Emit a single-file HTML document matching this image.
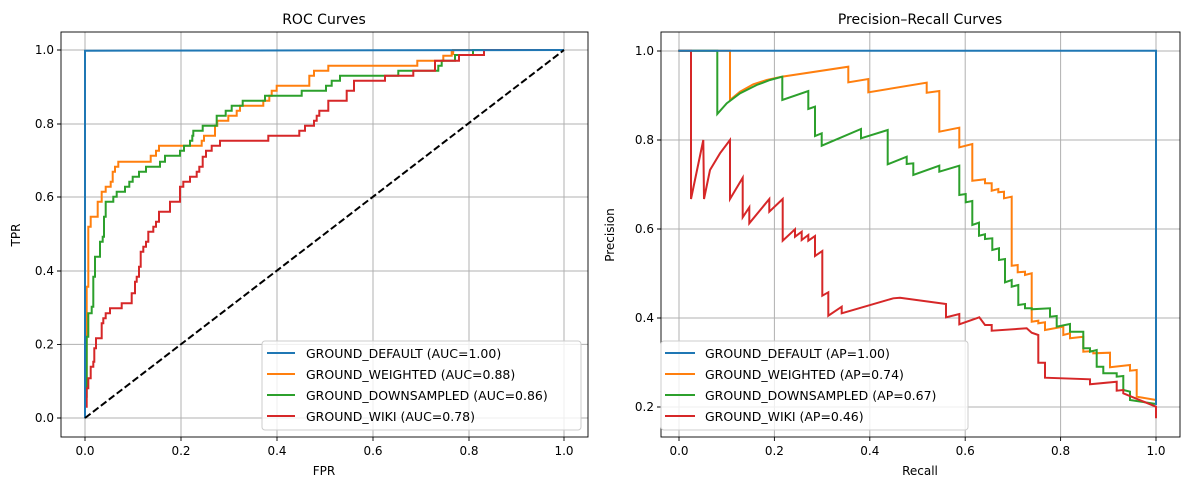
<!DOCTYPE html>
<html><head><meta charset="utf-8"><style>
body{margin:0;background:#fff}
svg text{font-family:"DejaVu Sans","Liberation Sans",sans-serif;fill:#000}
</style></head><body>
<svg id="s" width="1189" height="490" viewBox="0 0 1189 490" xmlns="http://www.w3.org/2000/svg">
<rect width="1189" height="490" fill="#fff"/>
<g stroke="#b0b0b0" stroke-width="1" fill="none">
<path d="M85,32V437M181,32V437M277,32V437M373,32V437M469,32V437M564,32V437M61,418H588M61,344.4H588M61,271H588M61,197H588M61,124H588M61,50H588"/>
<path d="M679,32V437M774.4,32V437M869.8,32V437M965.2,32V437M1060.6,32V437M1156,32V437M661,407H1180M661,318H1180M661,229H1180M661,140H1180M661,51H1180"/>
</g>
<g id="L" fill="none" stroke-width="2"></g>
<g id="R" fill="none" stroke-width="2"></g>
<line x1="85" y1="418" x2="564" y2="50" stroke="#000" stroke-width="2" stroke-dasharray="7,3"/>
<rect x="61" y="32" width="527" height="405" fill="none" stroke="#000" stroke-width="0.9"/>
<rect x="661" y="32" width="519" height="405" fill="none" stroke="#000" stroke-width="0.9"/>
<g stroke="#000" stroke-width="0.9">
<path d="M85,437v4M181,437v4M277,437v4M373,437v4M469,437v4M564,437v4M61,418h-4M61,344.4h-4M61,271h-4M61,197h-4M61,124h-4M61,50h-4"/>
<path d="M679,437v4M774.4,437v4M869.8,437v4M965.2,437v4M1060.6,437v4M1156,437v4M661,407h-4M661,318h-4M661,229h-4M661,140h-4M661,51h-4"/>
</g>
<g font-size="12" text-anchor="middle">
<text x="85" y="455">0.0</text><text x="181" y="455">0.2</text><text x="277" y="455">0.4</text><text x="373" y="455">0.6</text><text x="469" y="455">0.8</text><text x="564" y="455">1.0</text>
<text x="679" y="455">0.0</text><text x="774.4" y="455">0.2</text><text x="869.8" y="455">0.4</text><text x="965.2" y="455">0.6</text><text x="1060.6" y="455">0.8</text><text x="1156" y="455">1.0</text>
</g>
<g font-size="12" text-anchor="end">
<text x="54" y="422">0.0</text><text x="54" y="348.4">0.2</text><text x="54" y="275">0.4</text><text x="54" y="201">0.6</text><text x="54" y="128">0.8</text><text x="54" y="54">1.0</text>
<text x="654" y="411">0.2</text><text x="654" y="322">0.4</text><text x="654" y="233">0.6</text><text x="654" y="144">0.8</text><text x="654" y="55">1.0</text>
</g>
<g font-size="12" text-anchor="middle">
<text x="324" y="475">FPR</text><text x="920" y="475">Recall</text>
<text transform="translate(20,235) rotate(-90)">TPR</text>
<text transform="translate(614,235) rotate(-90)">Precision</text>
</g>
<g font-size="14" text-anchor="middle"><text x="324" y="24">ROC Curves</text><text x="920" y="24">Precision–Recall Curves</text></g>
<rect x="262" y="341" width="319" height="89" rx="3" fill="#fff" fill-opacity="0.8" stroke="#ccc"/>
<rect x="661" y="341" width="307" height="89" rx="3" fill="#fff" fill-opacity="0.8" stroke="#ccc"/>
<g stroke-width="2">
<line x1="267" y1="353" x2="295" y2="353" stroke="#1f77b4"/><line x1="267" y1="374" x2="295" y2="374" stroke="#ff7f0e"/><line x1="267" y1="395" x2="295" y2="395" stroke="#2ca02c"/><line x1="267" y1="416" x2="295" y2="416" stroke="#d62728"/>
<line x1="665" y1="353" x2="695" y2="353" stroke="#1f77b4"/><line x1="665" y1="374" x2="695" y2="374" stroke="#ff7f0e"/><line x1="665" y1="395" x2="695" y2="395" stroke="#2ca02c"/><line x1="665" y1="416" x2="695" y2="416" stroke="#d62728"/>
</g>
<g font-size="12.5">
<text x="306" y="358">GROUND_DEFAULT (AUC=1.00)</text><text x="306" y="379">GROUND_WEIGHTED (AUC=0.88)</text><text x="306" y="400">GROUND_DOWNSAMPLED (AUC=0.86)</text><text x="306" y="421">GROUND_WIKI (AUC=0.78)</text>
<text x="705" y="358">GROUND_DEFAULT (AP=1.00)</text><text x="705" y="379">GROUND_WEIGHTED (AP=0.74)</text><text x="705" y="400">GROUND_DOWNSAMPLED (AP=0.67)</text><text x="705" y="421">GROUND_WIKI (AP=0.46)</text>
</g>
</svg>
<script>
function add(g,col,z,ox,oy,extra){var p=z.map(function(a){return (ox+a[0]/3).toFixed(1)+","+(oy+a[1]/3).toFixed(1)}).join(" ");if(extra)p+=" "+extra;
var e=document.createElementNS("http://www.w3.org/2000/svg","polyline");e.setAttribute("points",p);e.setAttribute("stroke",col);document.getElementById(g).appendChild(e);}
function P(a){var r=[];for(var i=0;i<a.length;i+=2)r.push([a[i],a[i+1]]);return r;}
add("L","#ff7f0e",P([75,1165,75,1040,80,1040,80,770,85,770,85,590,92,590,92,560,113,560,113,515,125,515,125,485,137,485,137,470,152,470,152,455,158,455,158,425,165,425,165,410,175,410,175,395,272,395,272,377,288,377,288,362,297,362,297,347,425,347,425,332,432,332,432,317,465,317,465,287,472,287,472,272,505,272,505,257,530,257,530,242,540,242,540,227,610,227,610,212,628,212,628,197,635,197,635,182,650,182,650,167,748,167,748,137,762,137,762,122,805,122,805,107,1072,107,1072,92,1150,92,1150,77,1175,77,1175,62,1180,62]),60,30,"453,55 453,50 564,50");
add("L","#2ca02c",P([75,1165,75,1100,80,1100,80,920,85,920,85,850,95,850,95,830,100,830,100,740,105,740,105,680,120,680,120,635,128,635,128,620,132,620,132,560,137,560,137,515,160,515,160,500,170,500,170,485,195,485,195,470,208,470,208,455,218,455,218,440,237,440,237,425,258,425,258,410,300,410,300,395,315,395,315,377,360,377,360,362,372,362,372,347,390,347,390,332,397,332,397,317,400,317,400,302,428,302,428,287,470,287,470,257,497,257,497,242,515,242,515,227,548,227,548,212,615,212,615,197,725,197,725,182,798,182,798,167,815,167,815,152,840,152,840,137,1015,137,1015,122,1135,122,1135,107,1145,107,1145,92,1185,92]),60,30,"455,55 473,55 473,50 564,50");
add("L","#d62728",P([75,1165,75,1130,80,1130,80,1075,85,1075,85,1045,92,1045,92,1010,100,1010,100,995,103,995,103,955,108,955,108,925,125,925,125,880,130,880,130,865,137,865,137,850,150,850,150,835,185,835,185,820,215,820,215,790,225,790,225,755,230,755,230,740,237,740,237,710,242,710,242,665,250,665,250,650,258,650,258,635,265,635,265,605,280,605,280,590,288,590,288,575,297,575,297,545,330,545,330,515,360,515,360,470,370,470,370,455,390,455,390,440,410,440,410,425,418,425,418,410,428,410,428,380,438,380,438,362,455,362,455,347,480,347,480,332,625,332,625,317,718,317,718,302,735,302,735,287,762,287,762,272,770,272,770,257,778,257,778,242,805,242,805,212,860,212,860,182,882,182,882,152,975,152,975,137,1060,137,1060,122,1125,122,1125,92]),60,30,"459,60.7 459,55 484,55 484,50 564,50");
add("L","#1f77b4",P([75,1165,75,62]),60,30,"564,50");
add("R","#ff7f0e",P([55,62,210,62,210,210,240,185,280,163,320,150,365,140,565,110,565,157,625,147,625,187,800,158,800,188,838,183,838,305,898,293,898,352,937,342,937,452,975,448,975,460,995,460,995,482,1015,477,1015,487,1032,485,1032,505,1055,500,1055,707,1073,705,1073,727,1095,725,1095,735,1115,730,1115,875,1135,872,1135,880,1155,877,1155,900,1210,890,1210,915,1230,910,1230,925,1270,920,1270,965,1300,963,1300,970,1350,968,1350,1012,1410,1005,1410,1022,1430,1020,1430,1100,1488,1110,1488,1125]),660,30);
add("R","#2ca02c",P([55,62,172,62,172,252,200,220,240,190,290,165,330,150,367,140,367,210,445,183,445,237,465,230,465,318,485,310,485,347,603,297,603,325,683,300,683,403,740,380,740,402,760,400,760,435,838,407,838,425,898,407,898,495,917,492,917,517,937,513,937,585,957,578,957,617,975,613,975,627,997,625,997,660,1017,655,1017,690,1035,687,1035,757,1055,750,1055,770,1075,765,1075,825,1095,822,1095,835,1115,835,1115,838,1170,835,1170,860,1190,858,1190,890,1230,882,1230,905,1270,905,1270,955,1290,955,1290,965,1310,960,1310,1010,1330,1010,1330,1030,1370,1030,1370,1040,1390,1038,1390,1080,1410,1085,1410,1110,1488,1122]),660,30);
add("R","#d62728",P([55,62,93,62,93,507,130,330,132,507,150,420,180,370,210,330,210,507,248,443,248,562,268,532,268,580,328,507,328,545,368,507,368,632,405,598,405,620,425,605,425,630,445,615,445,632,465,618,465,678,487,663,487,797,505,787,505,857,545,830,545,850,700,805,720,803,858,822,858,862,898,852,898,883,958,862,975,885,995,885,995,902,1100,895,1115,908,1135,915,1135,998,1155,998,1155,1043,1290,1048,1290,1063,1370,1055,1370,1082,1390,1080,1390,1090,1488,1130,1488,1165]),660,30);
add("R","#1f77b4",P([55,62,1488,62,1488,1125]),660,30);
</script>
</body></html>
